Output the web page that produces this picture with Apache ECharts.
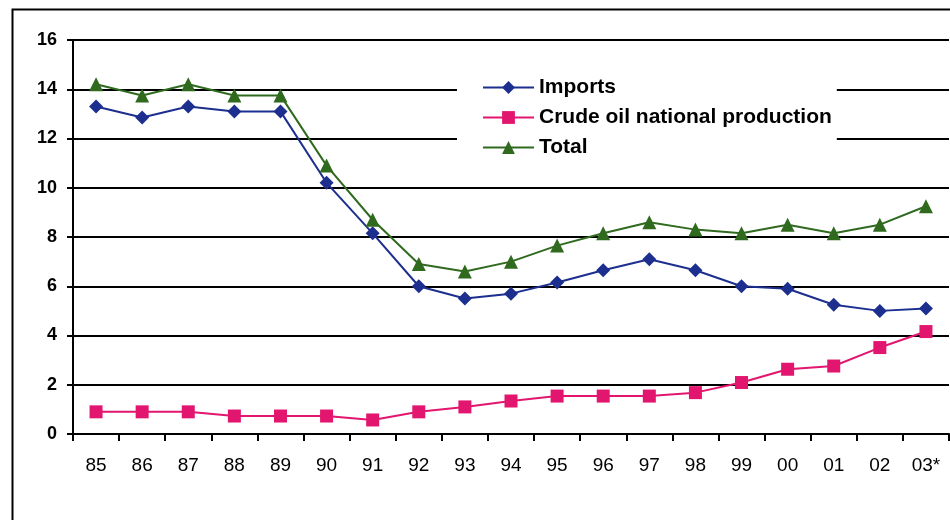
<!DOCTYPE html>
<html>
<head>
<meta charset="utf-8">
<script src="https://cdn.jsdelivr.net/npm/echarts@6/dist/echarts.min.js"></script>
<style>
  html, body { margin: 0; padding: 0; background: #fff; }
  #chart { width: 950px; height: 520px; }
</style>
</head>
<body>
<div id="chart"></div>
<script>
// Years (two-digit), 2003 provisional
const years = ['85','86','87','88','89','90','91','92','93','94','95','96','97','98','99','00','01','02','03*'];

// Million tonnes
const imports = [13.3, 12.85, 13.3, 13.1, 13.1, 10.2, 8.15, 6.0, 5.5, 5.7, 6.15, 6.65, 7.1, 6.65, 6.0, 5.9, 5.25, 5.0, 5.1];
const crudeProduction = [0.9, 0.9, 0.9, 0.73, 0.73, 0.73, 0.57, 0.9, 1.1, 1.34, 1.54, 1.54, 1.54, 1.68, 2.09, 2.63, 2.76, 3.51, 4.16];
const total = [14.2, 13.75, 14.2, 13.75, 13.75, 10.9, 8.7, 6.9, 6.6, 7.0, 7.65, 8.15, 8.6, 8.3, 8.15, 8.5, 8.15, 8.5, 9.25];

const yTicks = { min: 0, max: 16, step: 2 };

const FONT = '"Liberation Sans", Arial, sans-serif';
const BLUE = '#1c2f8f';
const PINK = '#e2166f';
const GREEN = '#2f6a1f';

const chart = echarts.init(document.getElementById('chart'), null, { renderer: 'canvas' });

function lineSeries(name, data, color, symbol, size) {
  return {
    name: name,
    type: 'line',
    data: data,
    symbol: symbol,
    symbolSize: size,
    showAllSymbol: true,
    lineStyle: { color: color, width: 2 },
    itemStyle: { color: color, borderWidth: 0 },
    emphasis: { disabled: true },
    z: 3
  };
}

chart.setOption({
  animation: false,
  backgroundColor: '#fff',
  graphic: [{
    type: 'rect',
    left: 10, top: 7,
    shape: { width: 970, height: 540 },
    style: { fill: 'none', stroke: '#000', lineWidth: 2 },
    z: 0
  }],
  grid: { left: 73, right: 1, top: 40, bottom: 86, containLabel: false },
  legend: {
    orient: 'vertical',
    left: 457,
    top: 60,
    padding: [17, 5, 18, 25],
    backgroundColor: '#fff',
    itemWidth: 51,
    itemHeight: 16,
    itemGap: 9,
    selectedMode: false,
    textStyle: { fontFamily: FONT, fontWeight: 'bold', fontSize: 21, lineHeight: 16, color: '#000' },
    data: ['Imports', 'Crude oil national production', 'Total'],
    z: 10
  },
  xAxis: {
    type: 'category',
    data: years,
    boundaryGap: true,
    axisLine: { lineStyle: { color: '#000', width: 2 } },
    axisTick: { show: true, interval: 0, length: 7, lineStyle: { color: '#000', width: 2 } },
    axisLabel: { interval: 0, margin: 22, fontFamily: FONT, fontSize: 19, color: '#000' },
    splitLine: { show: false }
  },
  yAxis: {
    type: 'value',
    min: yTicks.min,
    max: yTicks.max,
    interval: yTicks.step,
    axisLine: { show: true, lineStyle: { color: '#000', width: 2 } },
    axisTick: { show: true, length: 6, lineStyle: { color: '#000', width: 2 } },
    axisLabel: { margin: 16, fontFamily: FONT, fontSize: 18, fontWeight: 'bold', color: '#000' },
    splitLine: { show: true, lineStyle: { color: '#000', width: 2 } }
  },
  series: [
    lineSeries('Imports', imports, BLUE, 'diamond', 14),
    lineSeries('Crude oil national production', crudeProduction, PINK, 'rect', 13),
    lineSeries('Total', total, GREEN, 'triangle', 14)
  ]
});
</script>
</body>
</html>
